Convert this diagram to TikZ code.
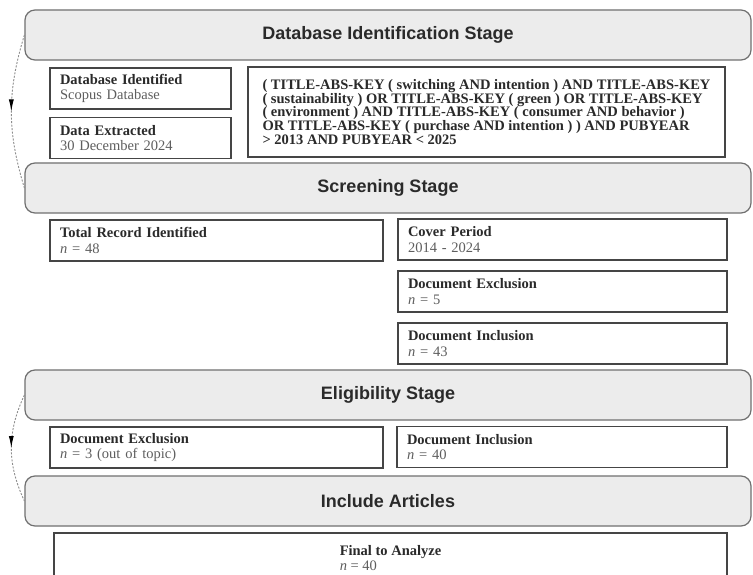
\documentclass[tikz,border=0pt]{standalone}
\usepackage{fontspec}
\setmainfont{Liberation Serif}
\newfontfamily\stagefont{Liberation Sans}
\usepackage{tikz}
\usetikzlibrary{shapes, arrows, arrows.meta, positioning, decorations.markings}
\definecolor{stagefill}{HTML}{ECECEC}
\definecolor{stageline}{HTML}{707070}
\definecolor{boxline}{HTML}{454545}
\definecolor{headtext}{HTML}{2A2A2A}
\definecolor{subtext}{HTML}{5E5E5E}
\tikzstyle{stage} = [draw=stageline, line width=1.2pt, fill=stagefill, rounded corners=10pt, minimum width=726pt, minimum height=50pt, font=\stagefont\bfseries\fontsize{18}{20}\selectfont, text=headtext]
\tikzstyle{box}   = [draw=boxline, line width=1.8pt, fill=white, inner xsep=10pt, minimum height=41pt, align=left, font=\fontsize{14.5}{15.5}\selectfont]
\tikzstyle{flow}  = [draw=stageline!80, dash pattern=on 2pt off 1.5pt, line width=0.9pt, postaction={decorate}, decoration={markings, mark=at position 0.5 with {\arrow[black]{Latex[length=12pt, width=5pt]}}}]
\newcommand{\hd}[1]{\textbf{\textcolor{headtext}{#1}}}
\newcommand{\nm}[1]{\textcolor{subtext}{#1}}

\begin{document}
\begin{tikzpicture}[x=1pt, y=-1pt]
\useasboundingbox [fill=white] (0,0) rectangle (753,575);
\clip (0,0) rectangle (753,575);

% stages
\node [stage] at ( 388  ,  35   ) (ident) {Database Identification Stage};
\node [stage] at ( 388  , 188   ) (scr)   {Screening Stage};
\node [stage] at ( 388  , 395   ) (elig)  {Eligibility Stage};
\node [stage] at ( 388  , 501   ) (incl)  {Include Articles};

% nodes
\node [box, text width=161pt] at ( 140.5,  88.5 ) (dbid)  {\hd{Database Identified}\\\nm{Scopus Database}};
\node [box, text width=161pt] at ( 140.5, 138   ) (dext)  {\hd{Data Extracted}\\\nm{30 December 2024}};
\node [box, minimum width=477pt, minimum height=90pt, text=headtext, font=\bfseries\fontsize{14.5}{13.8}\selectfont]
                              at ( 486.5, 112   ) (query) {( TITLE-ABS-KEY ( switching AND intention ) AND TITLE-ABS-KEY\\( sustainability ) OR TITLE-ABS-KEY ( green ) OR TITLE-ABS-KEY\\( environment ) AND TITLE-ABS-KEY ( consumer AND behavior )\\OR TITLE-ABS-KEY ( purchase AND intention ) ) AND PUBYEAR\\> 2013 AND PUBYEAR < 2025};

\node [box, text width=313pt] at ( 216.5, 240.5 ) (total) {\hd{Total Record Identified}\\\nm{\textit{n} = 48}};
\node [box, text width=309pt] at ( 562.5, 239.5 ) (cover) {\hd{Cover Period}\\\nm{2014 - 2024}};
\node [box, text width=309pt] at ( 562.5, 291.5 ) (sexcl) {\hd{Document Exclusion}\\\nm{\textit{n} = 5}};
\node [box, text width=309pt] at ( 562.5, 343.5 ) (sincl) {\hd{Document Inclusion}\\\nm{\textit{n} = 43}};

\node [box, text width=313pt] at ( 216.5, 447.5 ) (eexcl) {\hd{Document Exclusion}\\\nm{\textit{n} = 3 (out of topic)}};
\node [box, text width=310pt] at ( 562  , 447   ) (eincl) {\hd{Document Inclusion}\\\nm{\textit{n} = 40}};

\node [box, minimum width=673pt, minimum height=50pt]
                              at ( 390.5, 558   ) (final) {\hd{Final to Analyze}\\\nm{\textit{n} = 40}};

% edges
\draw [flow] (ident.west) to [bend right=17] (scr.west);
\draw [flow] (elig.west)  to [bend right=25] (incl.west);

\end{tikzpicture}
\end{document}
